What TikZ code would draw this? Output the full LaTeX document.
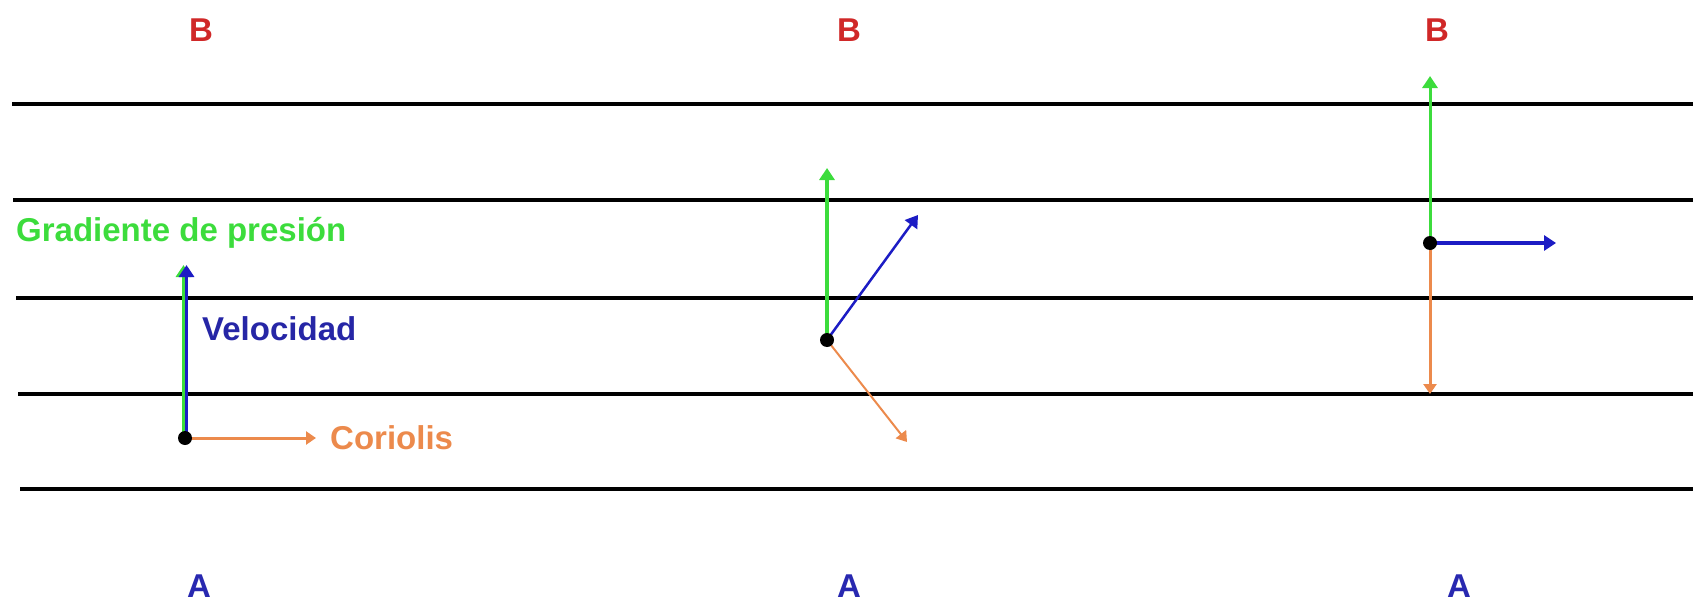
\documentclass[tikz,border=0pt]{standalone}
\usepackage{fontspec}
\setmainfont{Liberation Sans}
\usetikzlibrary{arrows.meta,positioning}
\definecolor{gradgreen}{HTML}{3CDC3C}
\definecolor{velblue}{HTML}{1C1CC4}
\definecolor{velink}{HTML}{2626A6}
\definecolor{corange}{HTML}{EC8A4C}
\definecolor{bred}{HTML}{D02828}
\definecolor{ablue}{HTML}{2828B0}

\begin{document}
\begin{tikzpicture}[x=1pt,y=-1pt,font=\fontsize{33}{40}\selectfont\bfseries,
 lbl/.style={inner sep=0pt},
 dot/.style={circle,fill=black,inner sep=0pt,minimum size=14pt},
 grad/.style={-{Triangle[length=12pt,width=15pt]},line width=3.5pt,draw=gradgreen},
 vel/.style={-{Triangle[length=12pt,width=15pt]},line width=3.5pt,draw=velblue},
 cor/.style={-{Triangle[length=10pt,width=13pt]},line width=3pt,draw=corange},
 layer/.style={line width=4.5pt,draw=black}]
\useasboundingbox (0,0) rectangle (1695,605);
\draw[layer] (12,104)--(1693,104); \draw[layer] (13,200)--(1693,200); \draw[layer] (16,298)--(1693,298);
\draw[layer] (18,394)--(1693,394); \draw[layer] (20,489)--(1693,489);
\node[lbl,text=bred] (b1) at (201,30) {B};
\node[lbl,text=bred] (b2) at (849,30) {B};
\node[lbl,text=bred] (b3) at (1437,30) {B};
\node[lbl,text=ablue] (a1) at (199,586) {A};
\node[lbl,text=ablue] (a2) at (849,586) {A};
\node[lbl,text=ablue] (a3) at (1459,586) {A};
\coordinate (p1) at (185,438); \coordinate (p1up) at (185,265); \coordinate (p1cor) at (316,438);
\coordinate (p2) at (827,340); \coordinate (p2grad) at (827,168); \coordinate (p2vel) at (918,215); \coordinate (p2cor) at (907,442);
\coordinate (p3) at (1430,243); \coordinate (p3grad) at (1430,76); \coordinate (p3vel) at (1556,243); \coordinate (p3cor) at (1430,394);
\draw[grad] ([xshift=-1.5pt]p1) -- ([xshift=-1.5pt]p1up);
\draw[vel] ([xshift=1.5pt]p1) -- ([xshift=1.5pt]p1up);
\draw[cor] (p1) -- (p1cor);
\node[lbl,text=gradgreen,anchor=west] (gradtxt) at (16,233) {Gradiente de presión};
\node[lbl,text=velink,anchor=west] (veltxt) at (202,329) {Velocidad};
\node[lbl,text=corange,right=14pt of p1cor] (cortxt) {Coriolis};
\draw[grad] (p2) -- (p2grad);
\draw[vel,line width=2.5pt] (p2) -- (p2vel);
\draw[cor,line width=2pt] (p2) -- (p2cor);
\draw[grad,line width=3pt] (p3) -- (p3grad);
\draw[vel,line width=4pt] (p3) -- (p3vel);
\draw[cor] (p3) -- (p3cor);
\node[dot] (d1) at (p1) {};
\node[dot] (d2) at (p2) {};
\node[dot] (d3) at (p3) {};
\end{tikzpicture}
\end{document}
